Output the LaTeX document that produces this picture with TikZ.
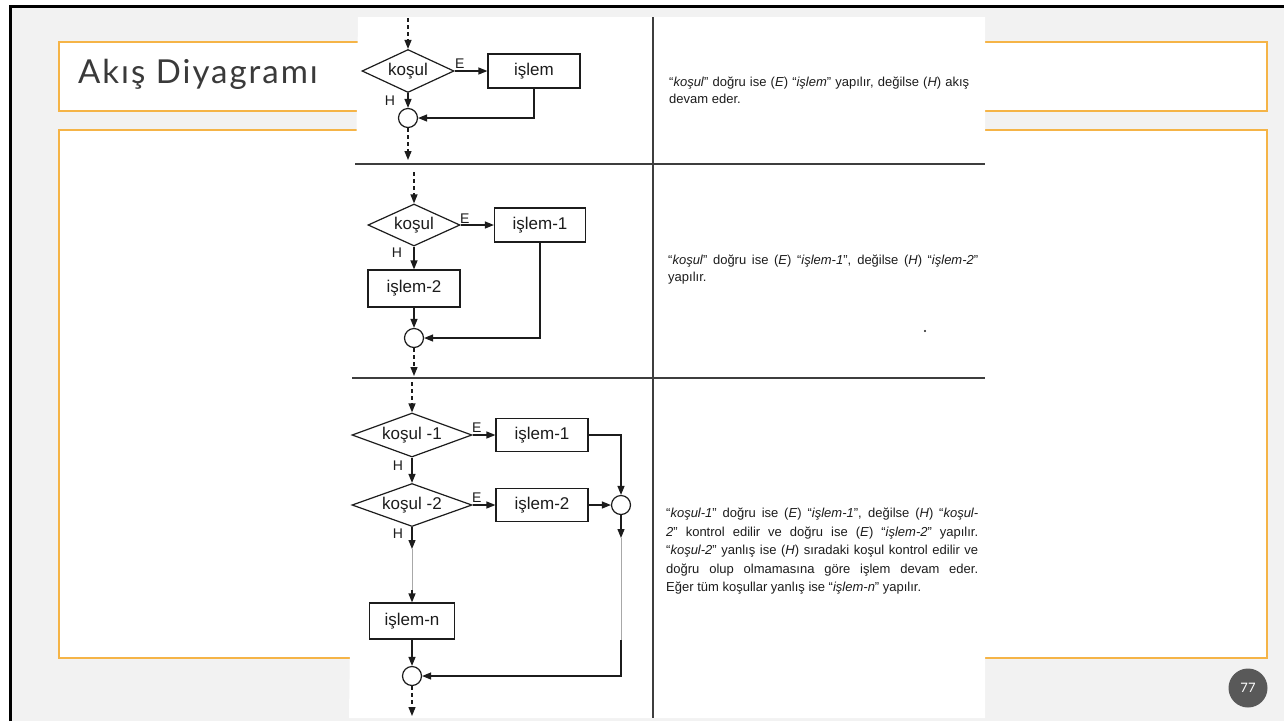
\documentclass[tikz,border=0pt]{standalone}
\usepackage{fontspec}
\setmainfont{Liberation Sans}
\newfontfamily\titlefont{Lato}
\newfontfamily\titlewide[LetterSpace=6]{Lato}
\usetikzlibrary{shapes.geometric,arrows.meta}
\definecolor{slidegray}{HTML}{F2F2F2}
\definecolor{accent}{HTML}{F5B447}
\definecolor{ink}{HTML}{1C1C1C}
\definecolor{titleink}{HTML}{3A3A3A}
\definecolor{badge}{HTML}{595959}
\definecolor{faint}{HTML}{A8A8A8}
\begin{document}
\begin{tikzpicture}[x=1pt,y=-1pt,
  flow/.style={draw=ink, line width=1.2pt},
  arr/.style={flow, -{Triangle[length=9pt,width=7pt]}},
  darr/.style={arr, dash pattern=on 4pt off 3pt},
  faintline/.style={draw=faint, line width=0.7pt},
  dia/.style={shape=diamond, draw=ink, line width=1.2pt, inner sep=0pt, fill=white},
  pbox/.style={rectangle, draw=ink, line width=1.2pt, inner sep=0pt, fill=white,
    font=\fontsize{17}{17}\selectfont, text=ink},
  lbl/.style={inner sep=0pt, font=\fontsize{17}{17}\selectfont, text=ink},
  jn/.style={circle, draw=ink, line width=1.2pt, minimum size=19pt, inner sep=0pt, fill=white},
  tag/.style={inner sep=0pt, font=\fontsize{14}{14}\selectfont, text=ink},
  rule/.style={draw=ink!85, line width=1.4pt},
  note/.style={inner sep=0pt, anchor=north west, align=justify, text=ink,
    font=\fontsize{13}{17}\selectfont},
  panel/.style={draw=accent, fill=white, line width=1.5pt}
]
\useasboundingbox (0,0) rectangle (1284,721);

% slide background and frame
\fill[white] (0,0) rectangle (1284,721);
\fill[slidegray] (10,6) rectangle (1284,721);
\draw[black, line width=3pt] (10.5,721) -- (10.5,6) -- (1284,6);

% title bar and content panel
\draw[panel] (59,42) rectangle (1267,111);
\draw[panel] (59,130) rectangle (1267,658);
\node[anchor=base west, inner sep=0pt, text=titleink,
  font=\titlewide\fontsize{33}{38}\selectfont] (title) at (78,83) {Akış Diyagramı};

% slide number badge
\node[circle, fill=badge, minimum size=39pt, inner sep=0pt, text=white,
  font=\titlefont\fontsize{13}{13}\selectfont] (pagenum) at (1248,688) {77};

% the pasted table sheet
\fill[white] (358,17) -- (985,17) -- (985,718) -- (349,718) -- cycle;
\draw[rule] (355,164) -- (985,164);
\draw[rule] (352,378) -- (985,378);
\draw[rule] (653,17) -- (653,718);
\fill[ink] (925,331) circle (1.2);

% ---------- row 1: single branch ----------
\coordinate (s1top) at (408,18);
\coordinate (s1bot) at (408,160);
\node[dia, minimum width=92pt, minimum height=43pt] (c1) at (408,71) {};
\node[lbl] (c1t) at (c1) {koşul};
\node[pbox, minimum width=92pt, minimum height=34pt] (p1) at (534,71) {işlem};
\node[jn] (j1) at (408,118) {};
\node[tag, anchor=south west] (e1) at (455,69) {E};
\node[tag] (h1) at (390,100.5) {H};
\draw[darr] (s1top) -- (c1.north);
\draw[arr] (c1.east) -- (p1.west);
\draw[arr] (c1.south) -- (j1.north);
\draw[arr] (p1.south) |- (j1.east);
\draw[darr] (j1.south) -- (s1bot);

% ---------- row 2: two branches ----------
\coordinate (s2top) at (414,172);
\coordinate (s2bot) at (414,376);
\node[dia, minimum width=92pt, minimum height=42pt] (c2) at (414,225) {};
\node[lbl] (c2t) at (c2) {koşul};
\node[pbox, minimum width=91pt, minimum height=34pt] (p21) at (540,225) {işlem-1};
\node[pbox, minimum width=92pt, minimum height=37pt] (p22) at (414,288.5) {işlem-2};
\node[jn] (j2) at (414,338) {};
\node[tag, anchor=south west] (e2) at (460,224) {E};
\node[tag] (h2) at (397,253) {H};
\draw[darr] (s2top) -- (c2.north);
\draw[arr] (c2.east) -- (p21.west);
\draw[arr] (c2.south) -- (p22.north);
\draw[arr] (p22.south) -- (j2.north);
\draw[arr] (p21.south) |- (j2.east);
\draw[darr] (j2.south) -- (s2bot);

% ---------- row 3: chained conditions ----------
\coordinate (s3top) at (412,382);
\coordinate (s3bot) at (412,716);
\node[dia, minimum width=120pt, minimum height=44pt] (c31) at (412,435) {};
\node[lbl] (c31t) at (c31) {koşul -1};
\node[pbox, minimum width=92pt, minimum height=33pt] (p31) at (542,435) {işlem-1};
\node[dia, minimum width=120pt, minimum height=43pt] (c32) at (412,505) {};
\node[lbl] (c32t) at (c32) {koşul -2};
\node[pbox, minimum width=92pt, minimum height=33pt] (p32) at (542,505) {işlem-2};
\node[jn] (j3) at (621,505) {};
\node[pbox, minimum width=85pt, minimum height=36pt] (pn) at (412,621) {işlem-n};
\node[jn] (jn) at (412,676) {};
\node[tag, anchor=south west] (e31) at (472,433) {E};
\node[tag, anchor=south west] (e32) at (472,503) {E};
\node[tag] (h31) at (398,466) {H};
\node[tag] (h32) at (398,534) {H};
\coordinate (g1) at (412,549);
\coordinate (g2) at (412,590);
\coordinate (g3) at (621,538);
\coordinate (g4) at (621,640);
\draw[darr] (s3top) -- (c31.north);
\draw[arr] (c31.east) -- (p31.west);
\draw[arr] (p31.east) -| (j3.north);
\draw[arr] (c31.south) -- (c32.north);
\draw[arr] (c32.east) -- (p32.west);
\draw[arr] (p32.east) -- (j3.west);
\draw[arr] (c32.south) -- (g1);
\draw[faintline] (g1) -- (g2);
\draw[arr] (g2) -- (pn.north);
\draw[arr] (pn.south) -- (jn.north);
\draw[arr] (j3.south) -- (g3);
\draw[faintline] (g3) -- (g4);
\draw[arr] (g4) |- (jn.east);
\draw[darr] (jn.south) -- (s3bot);

% ---------- explanations ----------
\node[note, text width=300pt] (t1) at (669,77)
  {“\textit{koşul}” doğru ise (\textit{E}) “\textit{işlem}” yapılır, değilse (\textit{H}) akış\linebreak
   devam eder.};
\node[note, text width=310pt] (t2) at (668,255)
  {“\textit{koşul}” doğru ise (\textit{E}) “\textit{işlem-1}”, değilse (\textit{H}) “\textit{işlem-2}”\linebreak
   yapılır.};
\node[note, text width=312pt, font=\fontsize{13}{18.5}\selectfont] (t3) at (666,508)
  {“\textit{koşul-1}” doğru ise (\textit{E}) “\textit{işlem-1}”, değilse (\textit{H}) “\textit{koşul-}\linebreak
   \textit{2}” kontrol edilir ve doğru ise (\textit{E}) “\textit{işlem-2}” yapılır.\linebreak
   “\textit{koşul-2}” yanlış ise (\textit{H}) sıradaki koşul kontrol edilir ve\linebreak
   doğru olup olmamasına göre işlem devam eder.\linebreak
   Eğer tüm koşullar yanlış ise “\textit{işlem-n}” yapılır.};
\end{tikzpicture}
\end{document}
